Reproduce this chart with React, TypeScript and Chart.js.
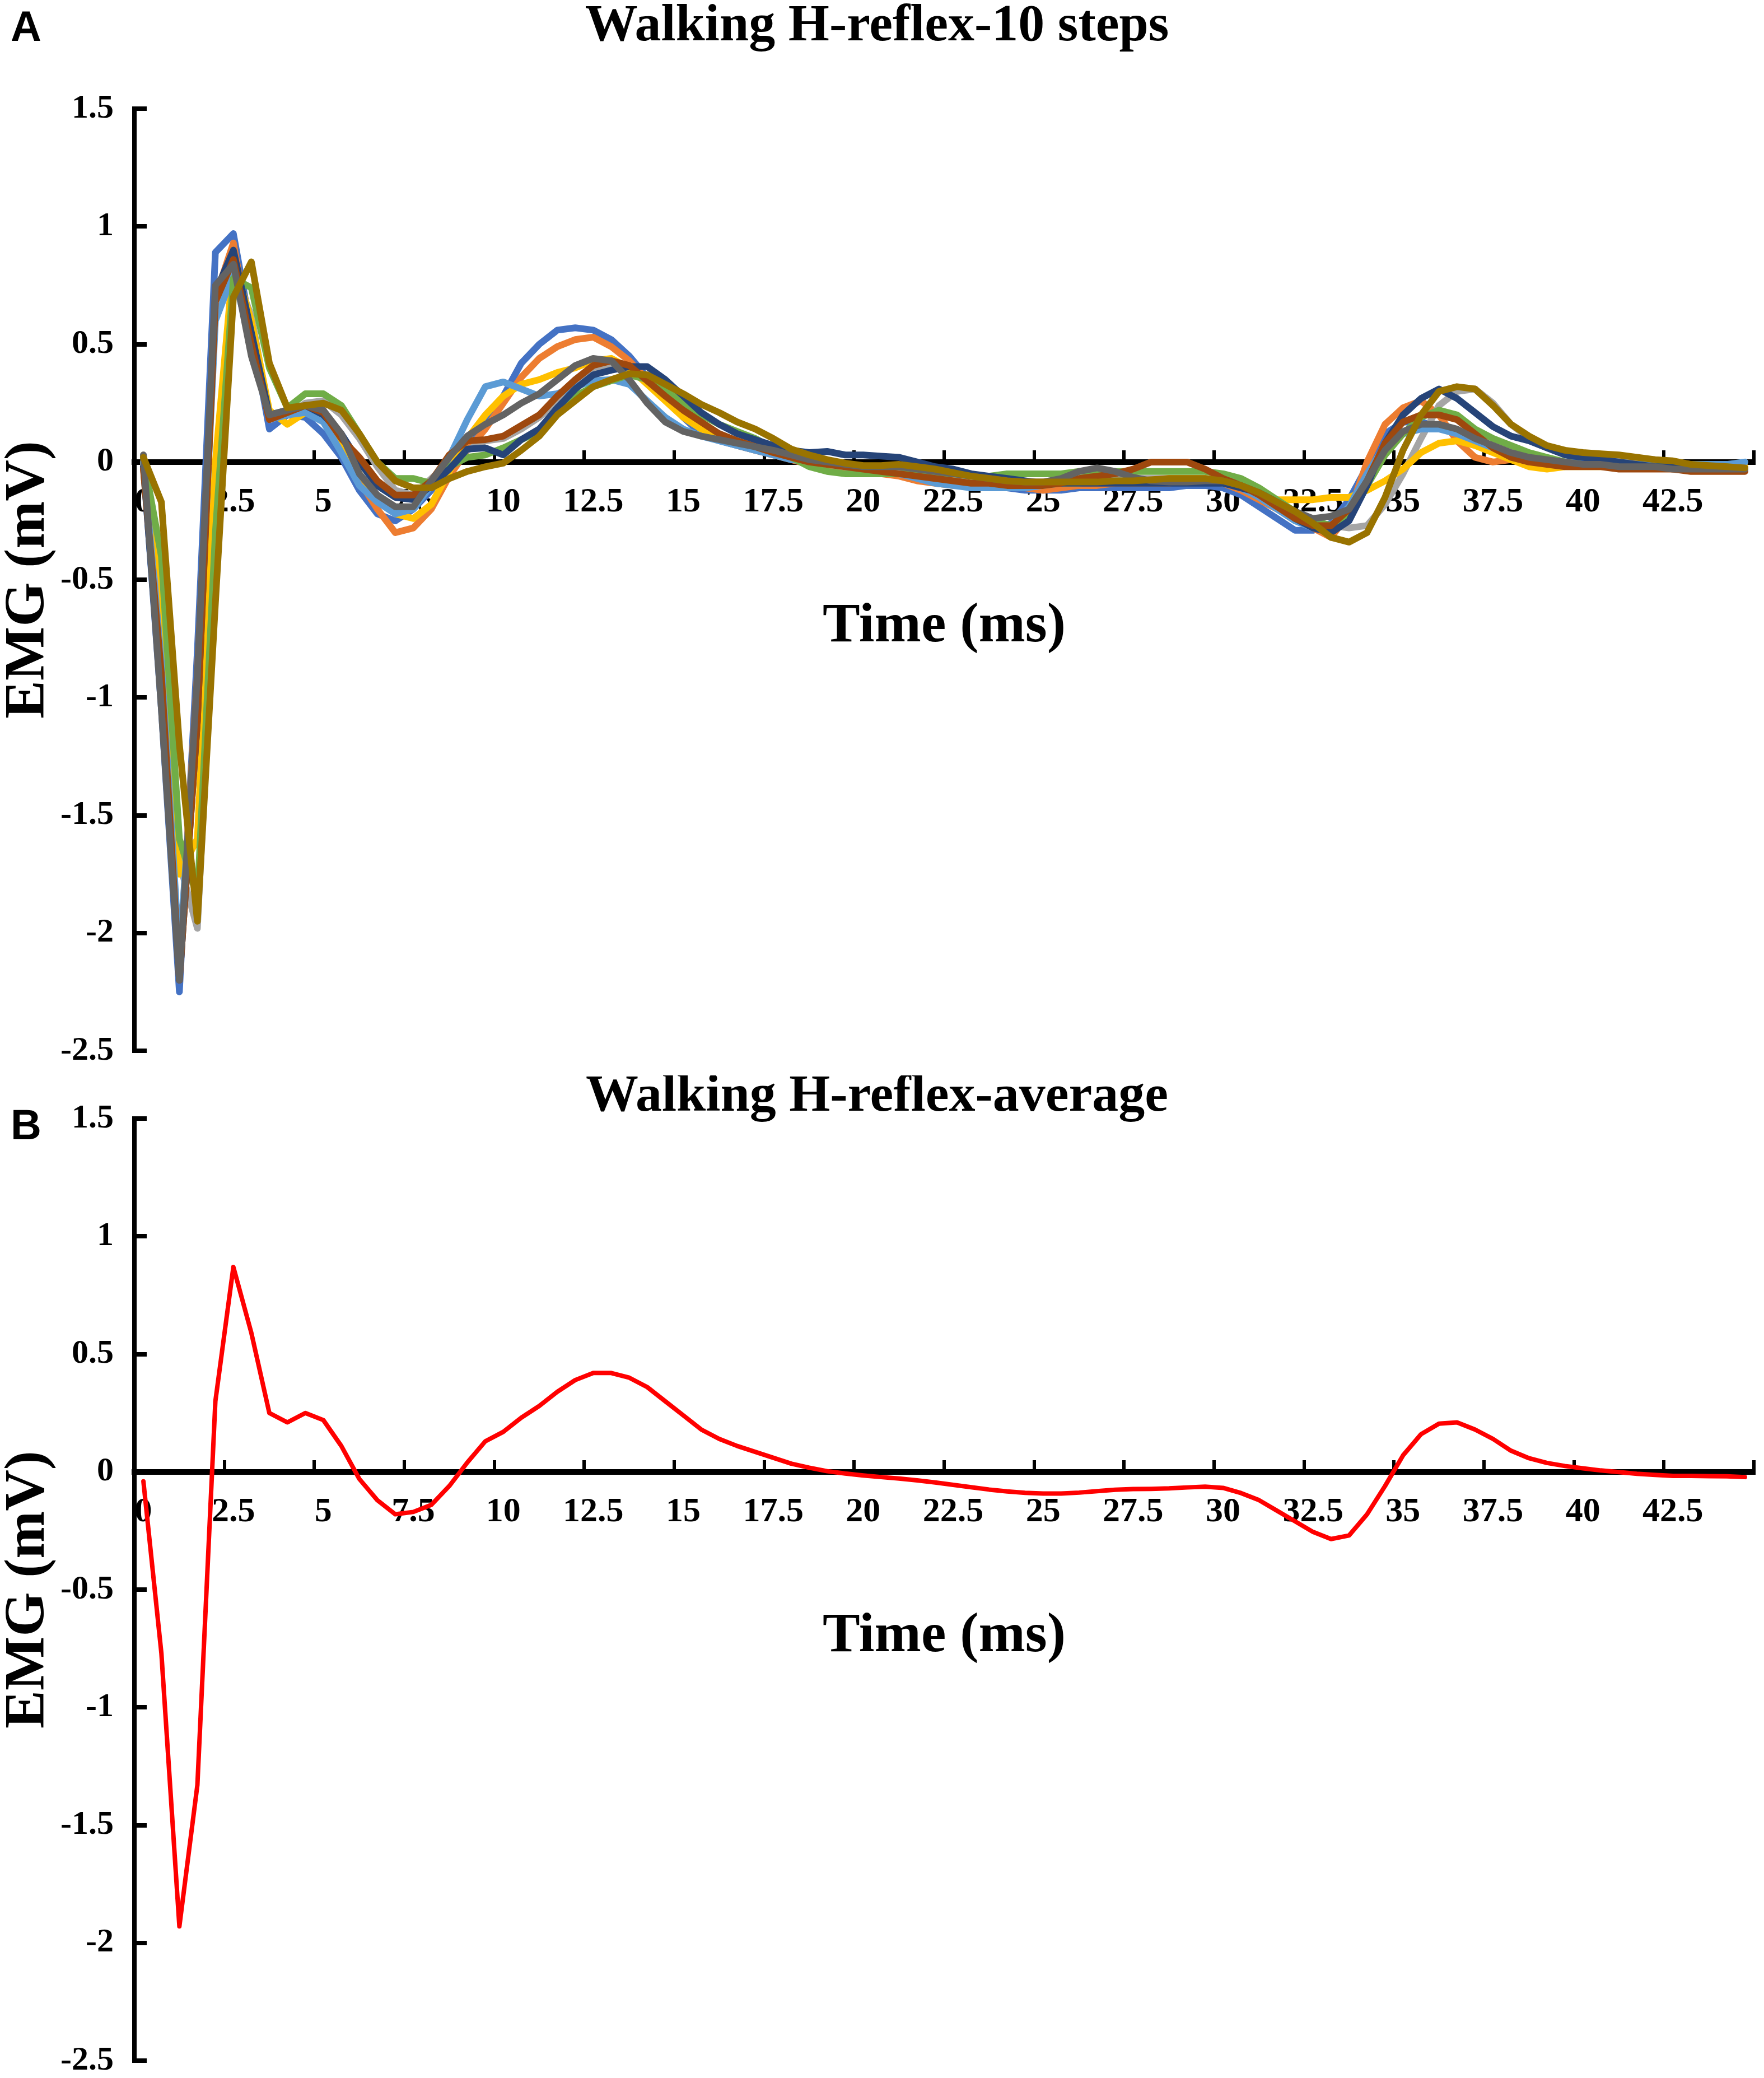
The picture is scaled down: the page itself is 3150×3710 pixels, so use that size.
import React, { useEffect, useRef } from 'react';
import { Chart, registerables } from 'chart.js';

Chart.register(...registerables);

// sample times, ms (one point every 0.5 ms)
const times = [
  0, 0.5, 1, 1.5, 2, 2.5, 3, 3.5, 4, 4.5,
  5, 5.5, 6, 6.5, 7, 7.5, 8, 8.5, 9, 9.5,
  10, 10.5, 11, 11.5, 12, 12.5, 13, 13.5, 14, 14.5,
  15, 15.5, 16, 16.5, 17, 17.5, 18, 18.5, 19, 19.5,
  20, 20.5, 21, 21.5, 22, 22.5, 23, 23.5, 24, 24.5,
  25, 25.5, 26, 26.5, 27, 27.5, 28, 28.5, 29, 29.5,
  30, 30.5, 31, 31.5, 32, 32.5, 33, 33.5, 34, 34.5,
  35, 35.5, 36, 36.5, 37, 37.5, 38, 38.5, 39, 39.5,
  40, 40.5, 41, 41.5, 42, 42.5, 43, 43.5, 44, 44.5,
];

const xTickLabels = ['0', '2.5', '5', '7.5', '10', '12.5', '15', '17.5', '20', '22.5', '25', '27.5', '30', '32.5', '35', '37.5', '40', '42.5'];
const yTicks = [1.5, 1, 0.5, 0, -0.5, -1, -1.5, -2, -2.5];

// panel A: ten steps (mV)
const step1 = [
  0, -1.05, -2.25, -0.8, 0.89, 0.97, 0.55, 0.14, 0.2, 0.19,
  0.12, 0.02, -0.12, -0.22, -0.25, -0.2, -0.12, 0, 0.06, 0.15,
  0.28, 0.42, 0.5, 0.56, 0.57, 0.56, 0.52, 0.45, 0.36, 0.27,
  0.19, 0.12, 0.09, 0.07, 0.05, 0.03, 0.02, 0.01, 0, -0.01,
  -0.02, -0.03, -0.04, -0.06, -0.07, -0.08, -0.09, -0.1, -0.11, -0.12,
  -0.12, -0.12, -0.11, -0.11, -0.11, -0.11, -0.11, -0.11, -0.1, -0.1,
  -0.11, -0.14, -0.19, -0.24, -0.29, -0.29, -0.26, -0.16, -0.02, 0.12,
  0.17, 0.17, 0.15, 0.12, 0.08, 0.05, 0.03, 0.02, 0.01, 0,
  0, -0.01, -0.01, -0.01, -0.02, -0.02, -0.02, -0.02, -0.02, -0.02,
];
const step2 = [
  0, -0.95, -2.15, -0.9, 0.7, 0.93, 0.5, 0.2, 0.2, 0.24,
  0.22, 0.08, -0.08, -0.2, -0.3, -0.28, -0.2, -0.06, 0.05, 0.14,
  0.25, 0.36, 0.44, 0.49, 0.52, 0.53, 0.49, 0.43, 0.35, 0.27,
  0.2, 0.14, 0.1, 0.07, 0.05, 0.03, 0.01, -0.01, -0.02, -0.03,
  -0.04, -0.05, -0.06, -0.08, -0.09, -0.1, -0.1, -0.11, -0.11, -0.11,
  -0.12, -0.11, -0.1, -0.1, -0.09, -0.09, -0.09, -0.09, -0.08, -0.08,
  -0.09, -0.12, -0.16, -0.2, -0.24, -0.28, -0.32, -0.22, 0, 0.16,
  0.23, 0.26, 0.2, 0.09, 0.02, 0, 0.01, 0.01, 0, -0.01,
  -0.01, -0.01, -0.02, -0.02, -0.02, -0.03, -0.03, -0.03, -0.03, -0.03,
];
const step3 = [
  0.03, -0.75, -1.7, -1.98, -0.45, 0.82, 0.62, 0.2, 0.2, 0.25,
  0.26, 0.2, 0.1, -0.02, -0.12, -0.14, -0.07, 0, 0.05, 0.09,
  0.1, 0.14, 0.19, 0.26, 0.33, 0.38, 0.41, 0.4, 0.35, 0.28,
  0.21, 0.16, 0.12, 0.09, 0.07, 0.05, 0.03, 0.01, -0.01, -0.02,
  -0.03, -0.03, -0.04, -0.05, -0.06, -0.07, -0.08, -0.08, -0.09, -0.09,
  -0.09, -0.08, -0.08, -0.07, -0.07, -0.07, -0.07, -0.07, -0.07, -0.07,
  -0.08, -0.1, -0.14, -0.18, -0.21, -0.25, -0.27, -0.28, -0.27, -0.18,
  -0.05, 0.1, 0.24, 0.3, 0.31, 0.25, 0.16, 0.1, 0.06, 0.04,
  0.03, 0.02, 0.02, 0.01, 0.01, 0, -0.01, -0.01, -0.02, -0.02,
];
const step4 = [
  0, -0.5, -1.75, -1.6, 0, 0.85, 0.6, 0.22, 0.16, 0.21,
  0.2, 0.08, -0.05, -0.15, -0.22, -0.24, -0.18, -0.04, 0.1, 0.2,
  0.28, 0.33, 0.35, 0.38, 0.4, 0.43, 0.44, 0.4, 0.33, 0.26,
  0.19, 0.14, 0.1, 0.08, 0.06, 0.04, 0.02, 0, -0.01, -0.02,
  -0.03, -0.04, -0.05, -0.06, -0.07, -0.08, -0.09, -0.09, -0.1, -0.1,
  -0.1, -0.09, -0.09, -0.08, -0.08, -0.08, -0.08, -0.07, -0.07, -0.07,
  -0.08, -0.1, -0.14, -0.16, -0.16, -0.16, -0.15, -0.15, -0.12, -0.08,
  -0.03, 0.04, 0.08, 0.09, 0.07, 0.04, 0.01, -0.02, -0.03, -0.02,
  -0.02, -0.02, -0.02, -0.02, -0.02, -0.02, -0.02, -0.02, -0.02, -0.02,
];
const step5 = [
  0, -0.85, -2.1, -1, 0.6, 0.8, 0.5, 0.18, 0.2, 0.21,
  0.17, 0.04, -0.1, -0.17, -0.22, -0.2, -0.1, 0.02, 0.18, 0.32,
  0.34, 0.31, 0.28, 0.29, 0.32, 0.345, 0.35, 0.33, 0.26, 0.19,
  0.14, 0.11, 0.09, 0.07, 0.05, 0.03, 0.01, 0, -0.01, -0.02,
  -0.03, -0.04, -0.05, -0.07, -0.09, -0.1, -0.11, -0.11, -0.11, -0.11,
  -0.1, -0.09, -0.08, -0.08, -0.08, -0.08, -0.08, -0.08, -0.08, -0.08,
  -0.09, -0.11, -0.15, -0.2, -0.25, -0.28, -0.27, -0.19, -0.05, 0.07,
  0.12, 0.14, 0.14, 0.12, 0.09, 0.06, 0.03, 0.01, 0, -0.01,
  -0.01, -0.01, -0.01, -0.01, -0.01, -0.01, -0.01, -0.01, -0.01, 0,
];
const step6 = [
  0.02, -0.4, -1.6, -1.85, -0.3, 0.78, 0.74, 0.4, 0.23, 0.29,
  0.29, 0.24, 0.12, 0, -0.07, -0.07, -0.09, -0.02, 0.02, 0.03,
  0.06, 0.095, 0.13, 0.22, 0.28, 0.32, 0.345, 0.37, 0.35, 0.31,
  0.25, 0.2, 0.16, 0.13, 0.1, 0.06, 0.02, -0.02, -0.04, -0.05,
  -0.05, -0.05, -0.05, -0.05, -0.05, -0.05, -0.06, -0.06, -0.05, -0.05,
  -0.05, -0.05, -0.04, -0.04, -0.04, -0.04, -0.04, -0.04, -0.04, -0.04,
  -0.05, -0.07, -0.11, -0.16, -0.21, -0.25, -0.27, -0.22, -0.1, 0.03,
  0.12, 0.19, 0.22, 0.2, 0.14, 0.1, 0.07, 0.04, 0.02, 0,
  -0.01, -0.01, -0.02, -0.02, -0.02, -0.02, -0.02, -0.02, -0.02, -0.03,
];
const step7 = [
  -0.02, -1, -2.2, -1.1, 0.72, 0.9, 0.55, 0.2, 0.22, 0.24,
  0.2, 0.12, 0, -0.1, -0.15, -0.16, -0.1, -0.03, 0.055, 0.06,
  0.03, 0.095, 0.14, 0.23, 0.31, 0.37, 0.39, 0.405, 0.405, 0.35,
  0.28, 0.21, 0.16, 0.12, 0.095, 0.07, 0.05, 0.04, 0.045, 0.03,
  0.03, 0.025, 0.02, 0, -0.02, -0.03, -0.05, -0.06, -0.07, -0.08,
  -0.09, -0.09, -0.09, -0.09, -0.09, -0.09, -0.09, -0.09, -0.09, -0.09,
  -0.09, -0.11, -0.13, -0.17, -0.24, -0.28, -0.3, -0.25, -0.1, 0.08,
  0.2, 0.27, 0.31, 0.27, 0.21, 0.15, 0.11, 0.09, 0.06, 0.03,
  0.02, 0.01, 0, -0.01, -0.02, -0.02, -0.03, -0.03, -0.03, -0.03,
];
const step8 = [
  -0.03, -0.9, -2.2, -1.1, 0.68, 0.86, 0.5, 0.18, 0.21, 0.24,
  0.21, 0.1, 0.02, -0.08, -0.14, -0.14, -0.08, 0.03, 0.09, 0.095,
  0.11, 0.155, 0.2, 0.28, 0.35, 0.41, 0.43, 0.41, 0.345, 0.28,
  0.22, 0.17, 0.12, 0.09, 0.065, 0.04, 0.02, 0, -0.01, -0.02,
  -0.03, -0.04, -0.05, -0.06, -0.07, -0.08, -0.09, -0.09, -0.1, -0.1,
  -0.1, -0.09, -0.07, -0.06, -0.05, -0.03, 0, 0, 0, -0.03,
  -0.07, -0.1, -0.14, -0.19, -0.24, -0.27, -0.27, -0.2, -0.08, 0.08,
  0.17, 0.2, 0.2, 0.18, 0.12, 0.06, 0.02, 0, -0.01, -0.02,
  -0.02, -0.02, -0.03, -0.03, -0.03, -0.03, -0.04, -0.04, -0.04, -0.04,
];
const step9 = [
  0.03, -1.05, -2.2, -0.9, 0.75, 0.84, 0.45, 0.2, 0.22, 0.24,
  0.22, 0.12, -0.05, -0.14, -0.19, -0.19, -0.08, 0.02, 0.11, 0.16,
  0.2, 0.25, 0.29, 0.35, 0.41, 0.44, 0.43, 0.35, 0.25, 0.17,
  0.13, 0.11, 0.095, 0.08, 0.065, 0.05, 0.03, 0.01, 0, -0.01,
  -0.02, -0.02, -0.02, -0.03, -0.04, -0.05, -0.06, -0.07, -0.08, -0.085,
  -0.085, -0.07, -0.04, -0.025, -0.04, -0.065, -0.08, -0.085, -0.085, -0.08,
  -0.08, -0.1, -0.13, -0.17, -0.21, -0.24, -0.23, -0.2, -0.08, 0.05,
  0.13, 0.16, 0.16, 0.14, 0.1, 0.07, 0.04, 0.02, 0.01, 0,
  -0.01, -0.01, -0.02, -0.02, -0.02, -0.03, -0.03, -0.03, -0.03, -0.03,
];
const step10 = [
  0.02, -0.17, -1.2, -1.95, -0.6, 0.7, 0.85, 0.42, 0.23, 0.24,
  0.25, 0.22, 0.12, 0, -0.08, -0.11, -0.11, -0.07, -0.04, -0.02,
  -0.005, 0.05, 0.11, 0.2, 0.26, 0.32, 0.35, 0.375, 0.37, 0.33,
  0.29, 0.245, 0.21, 0.17, 0.14, 0.1, 0.055, 0.03, 0.01, -0.005,
  -0.015, -0.015, -0.01, -0.02, -0.03, -0.045, -0.06, -0.07, -0.08, -0.085,
  -0.085, -0.085, -0.085, -0.085, -0.08, -0.08, -0.075, -0.07, -0.07, -0.07,
  -0.08, -0.1, -0.13, -0.17, -0.21, -0.26, -0.32, -0.34, -0.3, -0.15,
  0.05, 0.2, 0.3, 0.32, 0.31, 0.24, 0.16, 0.11, 0.07, 0.05,
  0.04, 0.035, 0.03, 0.02, 0.01, 0.005, -0.01, -0.015, -0.02, -0.025,
];

// panel B: average of the ten steps (mV)
const average = [
  -0.04, -0.77, -1.93, -1.33, 0.3, 0.87, 0.59, 0.25, 0.21, 0.25,
  0.22, 0.11, -0.03, -0.12, -0.18, -0.17, -0.14, -0.06, 0.04, 0.13,
  0.17, 0.23, 0.28, 0.34, 0.39, 0.42, 0.42, 0.4, 0.36, 0.3,
  0.24, 0.18, 0.14, 0.11, 0.085, 0.06, 0.035, 0.018, 0.003, -0.007,
  -0.015, -0.022, -0.028, -0.036, -0.045, -0.055, -0.065, -0.075, -0.083, -0.089,
  -0.092, -0.092, -0.088, -0.082, -0.076, -0.073, -0.072, -0.07, -0.066, -0.063,
  -0.068, -0.09, -0.12, -0.165, -0.21, -0.255, -0.285, -0.27, -0.18, -0.06,
  0.07, 0.16, 0.205, 0.21, 0.18, 0.14, 0.09, 0.058, 0.038, 0.025,
  0.015, 0.006, -0.001, -0.008, -0.013, -0.017, -0.017, -0.018, -0.019, -0.022,
];

const stepColors = ['#4472C4', '#ED7D31', '#A5A5A5', '#FFC000', '#5B9BD5', '#70AD47', '#264478', '#9E480E', '#636363', '#997300'];
const stepValues = [step1, step2, step3, step4, step5, step6, step7, step8, step9, step10];

// tick marks sit between categories, labels on the categories
const xTickMarks = [...xTickLabels.map((l) => Number(l) - 0.25), 44.75];

const SERIF = "'Times New Roman', 'Liberation Serif', serif";

interface Series {
  label: string;
  color: string;
  width: number;
  values: number[];
}

interface PanelProps {
  title: string;
  series: Series[];
  height: number;
  titlePadding: { top: number; bottom: number };
  bottomPadding: number;
}

const Panel: React.FC<PanelProps> = ({ title, series, height, titlePadding, bottomPadding }) => {
  const canvasRef = useRef<HTMLCanvasElement | null>(null);

  useEffect(() => {
    const ctx = canvasRef.current?.getContext('2d');
    if (!ctx) return;

    const chart = new Chart(ctx, {
      type: 'line',
      data: {
        datasets: series.map((s, i) => ({
          label: s.label,
          data: s.values.map((v, k) => ({ x: times[k], y: v })),
          borderColor: s.color,
          borderWidth: s.width,
          pointRadius: 0,
          tension: 0,
          fill: false,
          borderJoinStyle: 'round' as const,
          borderCapStyle: 'round' as const,
          order: series.length - i, // last series on top, as in Excel
        })),
      },
      options: {
        responsive: false,
        animation: false,
        devicePixelRatio: 1,
        layout: { padding: { left: 0, right: 18, top: 0, bottom: bottomPadding } },
        plugins: {
          legend: { display: false },
          tooltip: { enabled: false },
          title: {
            display: true,
            text: title,
            color: '#000',
            font: { family: SERIF, size: 94, weight: 'bold', lineHeight: 0.8 },
            padding: titlePadding,
          },
        },
        scales: {
          x: {
            type: 'linear',
            min: -0.25,
            max: 44.75,
            position: { y: 0 },
            afterBuildTicks: (scale: any) => {
              scale.ticks = xTickMarks.map((v) => ({ value: v }));
            },
            afterFit: (scale: any) => {
              scale.paddingLeft = 0;
              scale.paddingRight = 0;
            },
            ticks: {
              autoSkip: false,
              maxRotation: 0,
              labelOffset: 16,
              padding: 67,
              color: '#000',
              font: { family: SERIF, size: 62, weight: 'bold', lineHeight: 1 },
              callback: (_v: any, i: number) => xTickLabels[i] ?? '',
            },
            grid: { drawOnChartArea: false, drawTicks: true, tickLength: -26, color: '#000', lineWidth: 6 },
            border: { display: true, color: '#000', width: 10 },
            title: {
              display: true,
              text: 'Time (ms)',
              color: '#000',
              font: { family: SERIF, size: 100, weight: 'bold', lineHeight: 1 },
              padding: { top: 74, bottom: 0 },
            },
          },
          y: {
            type: 'linear',
            min: -2.5,
            max: 1.5,
            afterBuildTicks: (scale: any) => {
              scale.ticks = yTicks.map((v) => ({ value: v }));
            },
            afterFit: (scale: any) => {
              scale.width = 240;
              scale.paddingTop = 0;
              scale.paddingBottom = 0;
            },
            ticks: {
              padding: 59,
              color: '#000',
              font: { family: SERIF, size: 60, weight: 'bold', lineHeight: 1 },
              callback: (v: any) => String(v),
            },
            grid: { drawOnChartArea: false, drawTicks: true, tickLength: -22, color: '#000', lineWidth: 8 },
            border: { display: true, color: '#000', width: 8 },
            title: {
              display: true,
              text: 'EMG (mV)',
              color: '#000',
              font: { family: SERIF, size: 102, weight: 'bold', lineHeight: 1 },
              padding: { top: 1, bottom: 0 },
            },
          },
        },
      } as any,
    });

    return () => {
      chart.destroy();
    };
  }, [title, series, height, titlePadding, bottomPadding]);

  return <canvas ref={canvasRef} width={3150} height={height} style={{ display: 'block' }} />;
};

const stepsSeries: Series[] = stepValues.map((values, i) => ({
  label: `Step ${i + 1}`,
  color: stepColors[i],
  width: 12,
  values,
}));

const averageSeries: Series[] = [{ label: 'Average', color: '#FF0000', width: 8, values: average }];

const titlePadA = { top: 10, bottom: 109 };
const titlePadB = { top: 1, bottom: 1 };

const panelLetter: React.CSSProperties = {
  position: 'absolute',
  left: 19,
  fontFamily: "Arial, 'Liberation Sans', sans-serif",
  fontWeight: 'bold',
  fontSize: 76,
  lineHeight: 1,
  color: '#000',
};

export default function App() {
  return (
    <div style={{ position: 'absolute', left: 0, top: 0, width: 3150, height: 3710, background: '#fff', overflow: 'hidden' }}>
      <div style={{ position: 'absolute', left: 0, top: 0 }}>
        <Panel title="Walking H-reflex-10 steps" series={stepsSeries} height={1920} titlePadding={titlePadA} bottomPadding={44} />
      </div>
      <div style={{ position: 'absolute', left: 0, top: 1920 }}>
        <Panel title="Walking H-reflex-average" series={averageSeries} height={1790} titlePadding={titlePadB} bottomPadding={31} />
      </div>
      <div style={{ ...panelLetter, top: 9 }}>A</div>
      <div style={{ ...panelLetter, top: 1970 }}>B</div>
    </div>
  );
}
